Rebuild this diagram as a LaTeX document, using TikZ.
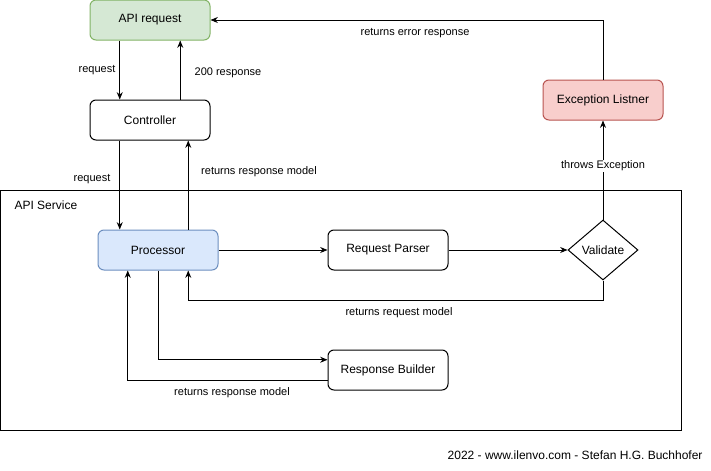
\documentclass[tikz,border=0pt]{standalone}
\usepackage{fontspec}
\setmainfont{Liberation Sans}
\usetikzlibrary{shapes.geometric, arrows.meta, positioning, calc}
\definecolor{reqGreen}{RGB}{213,232,212}
\definecolor{reqGreenLine}{RGB}{130,179,102}
\definecolor{procBlue}{RGB}{218,232,252}
\definecolor{procBlueLine}{RGB}{108,142,191}
\definecolor{excRed}{RGB}{248,206,204}
\definecolor{excRedLine}{RGB}{184,84,80}

\begin{document}
\begin{tikzpicture}[x=0.75pt, y=-0.75pt, line width=0.75pt,
  box/.style={draw, rounded corners=4.5pt, minimum width=90pt, minimum height=30pt, inner sep=0pt, font=\fontsize{9}{11}\selectfont},
  conn/.style={-{Stealth[length=5.5pt, width=4.5pt]}},
  lbl/.style={inner sep=1pt, font=\fontsize{8.25}{10}\selectfont}]
				\useasboundingbox (0,0) rectangle (711,471);
				% API service frame
				\draw (0,190) rectangle (681,430);
				\node[anchor=west, inner sep=0pt, font=\fontsize{9}{11}\selectfont] (service) at (14,205) {API Service};

				% boxes
				\node[box, fill=reqGreen, draw=reqGreenLine] (api) at (150,20) {API request};
				\node[box] (ctrl) at (150,120) {Controller};
				\node[box, fill=procBlue, draw=procBlueLine] (proc) at (158,250) {Processor};
				\node[box] (parser) at (388,250) {Request Parser};
				\node[box] (builder) at (388,370) {Response Builder};
				\node[box, fill=excRed, draw=excRedLine] (exc) at (603,100) {Exception Listner};
				\node[draw, diamond, aspect=1.17, minimum width=52.5pt, minimum height=45pt, inner sep=0pt, font=\fontsize{9}{11}\selectfont] (valid) at (603,250) {Validate};

				% helper points
				\coordinate (c1) at ($(ctrl.south)!.5!(ctrl.south west)$);
				\coordinate (p1) at ($(proc.north)!.5!(proc.north east)$);
				\coordinate (p2) at ($(proc.south)!.5!(proc.south east)$);
				\coordinate (p3) at ($(proc.south)!.5!(proc.south west)$);

				% connectors
				\draw[conn] ($(api.south)!.5!(api.south west)$) -- ($(ctrl.north)!.5!(ctrl.north west)$);
				\draw[conn] ($(ctrl.north)!.5!(ctrl.north east)$) -- ($(api.south)!.5!(api.south east)$);
				\draw[conn] (c1) -- (c1 |- proc.north);
				\draw[conn] (p1) -- (p1 |- ctrl.south);
				\draw[conn] (proc.east) -- (parser.west);
				\draw[conn] (parser.east) -- (valid.west);
				\draw[conn] (valid.north) -- (exc.south);
				\draw[conn] (exc.north) |- (api.east);
				\draw[conn] (valid.south) -- ++(0,20) -| (p2);
				\draw[conn] (proc.south) |- ($(builder.west)!.5!(builder.north west)$);
				\draw[conn] ($(builder.west)!.5!(builder.south west)$) -| (p3);

				% labels
				\node[lbl] (lReqA) at (97,70) {request};
				\node[lbl] (lOk) at (228,73) {200 response};
				\node[lbl] (lReqB) at (92,179) {request};
				\node[lbl] (lRespA) at (259,172) {returns response model};
				\node[lbl] (lErr) at (415,33) {returns error response};
				\node[lbl, fill=white] (lThrow) at (603,166) {throws Exception};
				\node[lbl] (lParse) at (399,313) {returns request model};
				\node[lbl] (lRespB) at (232,393) {returns response model};
				\node[anchor=east, inner sep=0pt, font=\fontsize{9}{11}\selectfont] (footer) at (703,455) {2022 - www.ilenvo.com - Stefan H.G. Buchhofer};
\end{tikzpicture}
\end{document}
